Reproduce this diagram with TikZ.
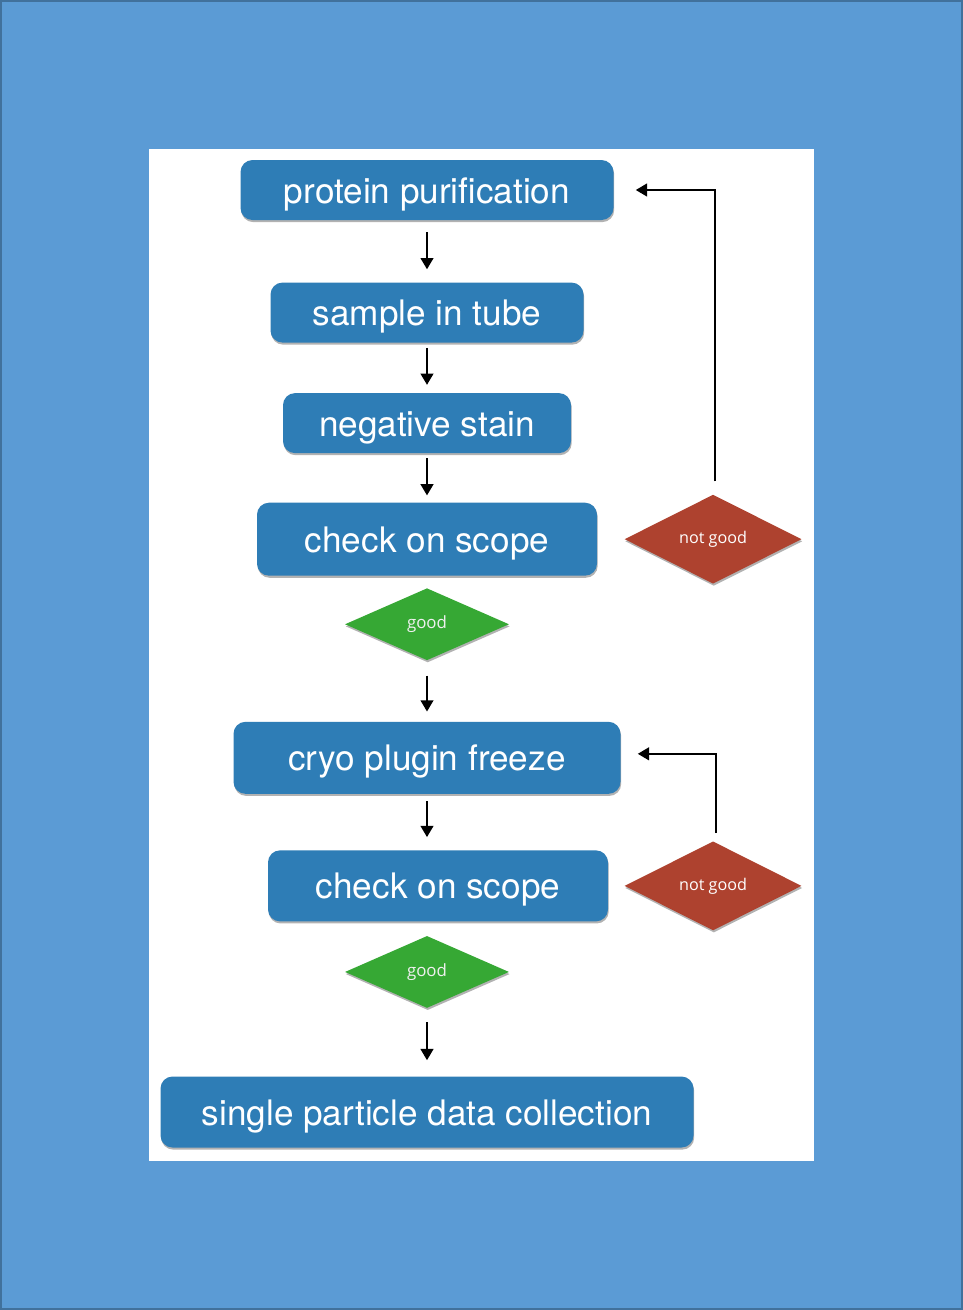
\documentclass[tikz,border=0pt]{standalone}
\usepackage{xcolor}
\usepackage{fontspec}
\setmainfont{TeX Gyre Heros}
\newfontfamily\labelfont{Open Sans}
\usepackage{tikz}
\usetikzlibrary{shapes.geometric, arrows.meta, positioning, calc, shadows}
\definecolor{pagecolor}{RGB}{91, 155, 213}
\definecolor{edgecolor}{RGB}{65, 113, 156}
\definecolor{stepcolor}{RGB}{46, 125, 182}
\definecolor{goodcolor}{RGB}{54, 168, 52}
\definecolor{badcolor}{RGB}{174, 66, 47}

\begin{document}
\begin{tikzpicture}[
    node distance=1cm,
    softshadow/.style={drop shadow={shadow xshift=0.5pt, shadow yshift=-1.5pt, opacity=0.3, fill=black}},
    box/.style={fill=stepcolor, rounded corners=0.3cm, minimum height=1.5cm, text=white, font=\fontsize{25}{30}\selectfont, text height=18.5pt, text depth=0pt, softshadow},
    goodnode/.style={diamond, aspect=2.2, inner sep=0pt, fill=goodcolor, minimum width=4.1cm, minimum height=1.8cm, text=white!88!gray, font=\labelfont\fontsize{12}{14}\selectfont, softshadow},
    badnode/.style={diamond, aspect=2, inner sep=0pt, fill=badcolor, minimum width=4.425cm, minimum height=2.225cm, text=white, font=\labelfont\fontsize{11.5}{14}\selectfont, softshadow},
    arrow/.style={-{Triangle[length=8pt, width=9pt]}, line width=1.5pt}
]
    % page and sheet
    \useasboundingbox (0,0) rectangle (24.075,-32.75);
    \fill[pagecolor] (0,0) rectangle (24.075,-32.75);
    \draw[edgecolor, line width=0.05cm] (0.025,-0.025) rectangle (24.05,-32.725);
    \fill[white] (3.725,-3.725) rectangle (20.35,-29.025);

    \node[box, minimum width=9.325cm] (purify) at (10.675,-4.75) {protein purification};
    \node[box, minimum width=7.825cm, below=1.55cm of purify] (tube) {sample in tube};
    \node[box, minimum width=7.2cm, below=1.25cm of tube] (stain) {negative stain};
    \node[box, minimum width=8.5cm, minimum height=1.825cm, below=1.225cm of stain] (scope) {check on scope};
    \node[goodnode, below=0.3cm of scope] (good) {good};
    \node[badnode, right=0.675cm of scope] (notgood) {not good};
    \node[box, minimum width=9.675cm, minimum height=1.8cm, below=1.525cm of good] (freeze) {cryo plugin freeze};
    \node[box, minimum width=8.5cm, minimum height=1.775cm, below=1.4cm of freeze, xshift=0.275cm] (rescope) {check on scope};
    \node[goodnode, below=0.35cm of rescope, xshift=-0.275cm] (regood) {good};
    \node[badnode, right=0.4cm of rescope] (renotgood) {not good};
    \node[box, minimum width=13.325cm, minimum height=1.775cm, below=1.7cm of regood] (collect) {single particle data collection};

    \draw[arrow, shorten <=0.3cm, shorten >=0.325cm] (purify) -- (tube);
    \draw[arrow, shorten <=0.125cm, shorten >=0.2cm] (tube) -- (stain);
    \draw[arrow, shorten <=0.125cm, shorten >=0.175cm] (stain) -- (scope);
    \draw[arrow, shorten <=0.375cm, shorten >=0.25cm] (good) -- (freeze);
    \draw[arrow, shorten <=0.175cm, shorten >=0.325cm] (freeze.south) -- (freeze.south |- rescope.north);
    \draw[arrow, shorten <=0.35cm, shorten >=0.4cm] (regood) -- (collect);

    % loops back
    \draw[arrow, shorten <=0.325cm, shorten >=0.55cm] ([xshift=0.05cm]notgood.north) |- (purify.east);
    \draw[arrow, shorten <=0.2cm, shorten >=0.425cm] ([xshift=0.075cm]renotgood.north) |- ([yshift=0.1cm]freeze.east);
\end{tikzpicture}
\end{document}
